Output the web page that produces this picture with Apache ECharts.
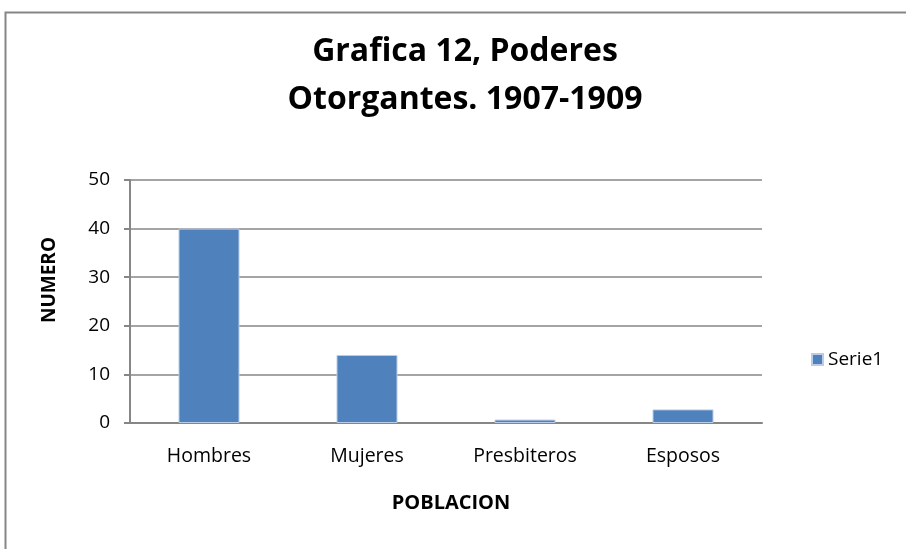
<!DOCTYPE html>
<html><head><meta charset="utf-8">
<script src="https://cdn.jsdelivr.net/npm/echarts@6/dist/echarts.min.js"></script>
<style>html,body{margin:0;padding:0;background:#fff}#c{width:906px;height:549px}</style>
</head><body><div id="c"></div>
<script>
const categories = ['Hombres', 'Mujeres', 'Presbiteros', 'Esposos'];
const serie1 = [40, 14, 0.7, 2.8];
const yTicks = [0, 10, 20, 30, 40, 50];
const titleText = 'Grafica 12, Poderes\nOtorgantes. 1907-1909';
const seriesName = 'Serie1';
const xName = 'POBLACION';
const yName = 'NUMERO';

const chart = echarts.init(document.getElementById('c'), null, {renderer: 'canvas'});
const FONT = '"Open Sans", "Liberation Sans", sans-serif';
chart.setOption({
  animation: false,
  backgroundColor: '#fff',
  graphic: [{
    type: 'polyline', silent: true,
    shape: {points: [[5.5, 560], [5.5, 12.5], [920, 12.5]]},
    style: {stroke: '#868686', lineWidth: 2, fill: null}
  }, {
    type: 'text', silent: true, x: 50, y: 280, rotation: Math.PI / 2,
    style: {text: yName, fontFamily: FONT, fontWeight: 'bold', fontSize: 19,
      fill: '#000', align: 'center', verticalAlign: 'middle'}
  }],
  title: {
    text: titleText, left: 460, top: 23, textAlign: 'center',
    textStyle: {fontFamily: FONT, fontWeight: 'bold', fontSize: 32, lineHeight: 48, color: '#000'}
  },
  legend: {
    data: [seriesName], left: 806, top: 345, orient: 'vertical',
    itemWidth: 11, itemHeight: 11, icon: 'rect', itemGap: 4,
    textStyle: {fontFamily: FONT, fontSize: 19, color: '#000', padding: [0, 0, 0, 0]}
  },
  grid: {left: 130, right: 144, top: 180, bottom: 126},
  xAxis: {
    type: 'category', data: categories,
    name: xName, nameLocation: 'middle', nameGap: 70,
    nameTextStyle: {fontFamily: FONT, fontWeight: 'bold', fontSize: 20, color: '#000', padding: [0, 0, 0, 10]},
    axisLine: {lineStyle: {color: '#868686', width: 2}},
    axisTick: {show: false},
    axisLabel: {fontFamily: FONT, fontSize: 19.5, color: '#000', margin: 23}
  },
  yAxis: {
    type: 'value', min: yTicks[0], max: yTicks[yTicks.length - 1], interval: 10,
    axisLine: {show: true, lineStyle: {color: '#868686', width: 2}},
    axisTick: {show: true, length: 6, lineStyle: {color: '#868686', width: 2}},
    splitLine: {lineStyle: {color: '#868686', width: 1.5}},
    axisLabel: {fontFamily: FONT, fontSize: 19, color: '#000', margin: 20}
  },
  series: [{
    name: seriesName, type: 'bar', data: serie1, barWidth: 61,
    itemStyle: {color: '#4F81BD', borderColor: '#BBCCE6', borderWidth: 1}
  }]
});
</script></body></html>
